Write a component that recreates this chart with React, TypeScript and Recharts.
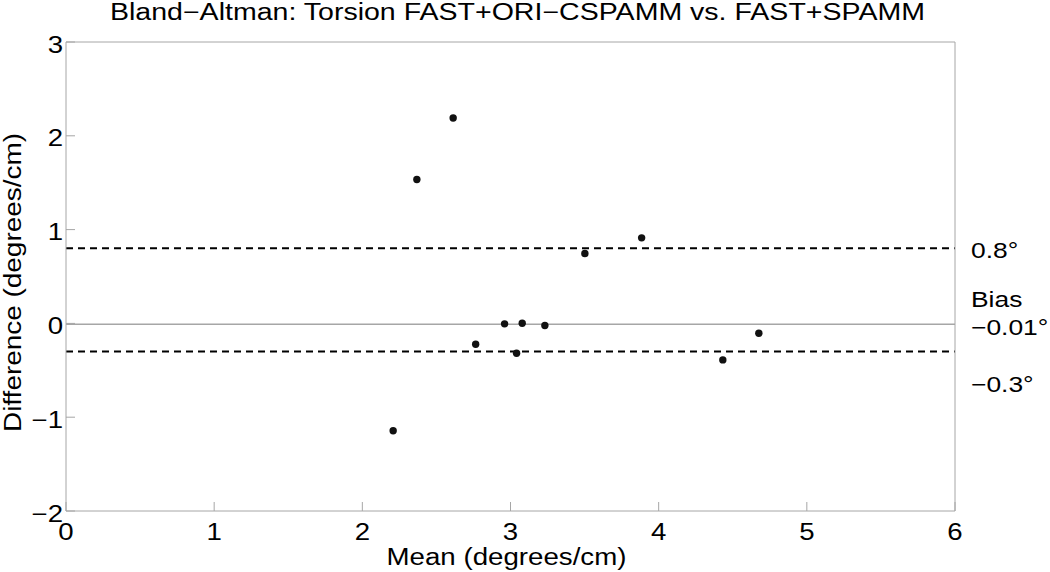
import {
  ScatterChart,
  Scatter,
  XAxis,
  YAxis,
  ReferenceLine,
} from 'recharts';

const meanValues = [2.208, 2.368, 2.613, 2.765, 2.96, 3.041, 3.079, 3.232, 3.502, 3.885, 4.433, 4.676];
const diffValues = [-1.144, 1.534, 2.189, -0.222, -0.005, -0.318, 0.002, -0.023, 0.745, 0.912, -0.389, -0.105];

const xTicks = [0, 1, 2, 3, 4, 5, 6];
const yTicks = [-2, -1, 0, 1, 2, 3];

const upperLimit = 0.8;
const bias = -0.01;
const lowerLimit = -0.3;

const FONT = '"Liberation Sans", Arial, Helvetica, sans-serif';
const AXIS_COLOR = '#a6a6a6';
const TICK_LEN = 9;
// the original glyphs are a little wider than Liberation Sans
const STRETCH = 1.2;

const points = meanValues.map((m, i) => ({ mean: m, diff: diffValues[i] }));

function WideText({ x, y, size, anchor, children }: any) {
  return (
    <text
      transform={`translate(${x} ${y}) scale(${STRETCH} 1)`}
      textAnchor={anchor}
      fontFamily={FONT}
      fontSize={size}
      fill="#000"
    >
      {children}
    </text>
  );
}

function BottomTick(props: any) {
  const { x, y, payload } = props;
  return (
    <g>
      <line x1={x} y1={y} x2={x} y2={y - TICK_LEN} stroke={AXIS_COLOR} />
      <WideText x={x} y={y + 29} size={23} anchor="middle">
        {payload.value}
      </WideText>
    </g>
  );
}

function TopTick(props: any) {
  const { x, y } = props;
  return <line x1={x} y1={y} x2={x} y2={y + TICK_LEN} stroke={AXIS_COLOR} />;
}

function LeftTick(props: any) {
  const { x, y, payload } = props;
  const label = payload.value < 0 ? `\u2212${Math.abs(payload.value)}` : `${payload.value}`;
  return (
    <g>
      <line x1={x} y1={y} x2={x + TICK_LEN} y2={y} stroke={AXIS_COLOR} />
      <WideText x={x - 3} y={y + 10.5} size={23} anchor="end">
        {label}
      </WideText>
    </g>
  );
}

function RightTick(props: any) {
  const { x, y } = props;
  return <line x1={x} y1={y} x2={x - TICK_LEN} y2={y} stroke={AXIS_COLOR} />;
}

function SideLabel({ viewBox, lines }: any) {
  if (!viewBox) return null;
  const x = viewBox.x + viewBox.width + 16;
  return (
    <g>
      {lines.map((l: { text: string; dy: number }, i: number) => (
        <WideText key={i} x={x} y={viewBox.y + l.dy} size={22} anchor="start">
          {l.text}
        </WideText>
      ))}
    </g>
  );
}

function Dot(props: any) {
  return <circle cx={props.cx} cy={props.cy} r={3.7} fill="#111" />;
}

export default function App() {
  return (
    <div style={{ position: 'absolute', left: 0, top: 0, background: '#fff' }}>
      <ScatterChart width={1050} height={572} margin={{ top: 22, right: 75, bottom: 31, left: 26 }}>
        <XAxis
          xAxisId="bottom"
          type="number"
          dataKey="mean"
          domain={[0, 6]}
          ticks={xTicks}
          height={30}
          tickSize={0}
          tickMargin={0}
          tickLine={false}
          axisLine={{ stroke: AXIS_COLOR }}
          tick={<BottomTick />}
          label={{
            content: ({ viewBox }: any) => (
              <text
                x={viewBox.x + viewBox.width / 2 - 4}
                y={viewBox.y + 54}
                textAnchor="middle"
                textLength={240}
                lengthAdjust="spacingAndGlyphs"
                fontFamily={FONT}
                fontSize={23}
                fill="#000"
              >
                Mean (degrees/cm)
              </text>
            ),
          }}
        />
        <XAxis
          xAxisId="top"
          orientation="top"
          type="number"
          dataKey="mean"
          domain={[0, 6]}
          ticks={xTicks}
          height={20}
          tickSize={0}
          tickMargin={0}
          tickLine={false}
          axisLine={{ stroke: AXIS_COLOR }}
          tick={<TopTick />}
          label={{
            content: ({ viewBox }: any) => (
              <text
                x={viewBox.x + viewBox.width / 2 + 7}
                y={viewBox.y + viewBox.height - 22}
                textAnchor="middle"
                textLength={815}
                lengthAdjust="spacingAndGlyphs"
                fontFamily={FONT}
                fontSize={23}
                fill="#000"
              >
                Bland{'\u2212'}Altman: Torsion FAST+ORI{'\u2212'}CSPAMM vs. FAST+SPAMM
              </text>
            ),
          }}
        />
        <YAxis
          yAxisId="left"
          type="number"
          dataKey="diff"
          domain={[-2, 3]}
          ticks={yTicks}
          width={40}
          tickSize={0}
          tickMargin={0}
          tickLine={false}
          axisLine={{ stroke: AXIS_COLOR }}
          tick={<LeftTick />}
          label={{
            content: ({ viewBox }: any) => {
              const cx = viewBox.x + viewBox.width - 45;
              const cy = viewBox.y + viewBox.height / 2 + 6;
              return (
                <text
                  x={cx}
                  y={cy}
                  transform={`rotate(-90 ${cx} ${cy})`}
                  textAnchor="middle"
                  textLength={299}
                  lengthAdjust="spacingAndGlyphs"
                  fontFamily={FONT}
                  fontSize={23.5}
                  fill="#000"
                >
                  Difference (degrees/cm)
                </text>
              );
            },
          }}
        />
        <YAxis
          yAxisId="right"
          orientation="right"
          type="number"
          domain={[-2, 3]}
          ticks={yTicks}
          width={20}
          tickSize={0}
          tickMargin={0}
          tickLine={false}
          axisLine={{ stroke: AXIS_COLOR }}
          tick={<RightTick />}
        />
        <ReferenceLine
          xAxisId="bottom"
          yAxisId="left"
          y={bias}
          stroke={AXIS_COLOR}
          strokeWidth={1.5}
          label={<SideLabel lines={[{ text: 'Bias', dy: -17.5 }, { text: '\u22120.01\u00b0', dy: 10.5 }]} />}
        />
        <ReferenceLine
          xAxisId="bottom"
          yAxisId="left"
          y={upperLimit}
          stroke="#000"
          strokeWidth={2}
          strokeDasharray="7 5"
          label={<SideLabel lines={[{ text: '0.8\u00b0', dy: 9.5 }]} />}
        />
        <ReferenceLine
          xAxisId="bottom"
          yAxisId="left"
          y={lowerLimit}
          stroke="#000"
          strokeWidth={2}
          strokeDasharray="7 5"
          label={<SideLabel lines={[{ text: '\u22120.3\u00b0', dy: 40 }]} />}
        />
        <Scatter
          xAxisId="bottom"
          yAxisId="left"
          data={points}
          shape={<Dot />}
          isAnimationActive={false}
        />
      </ScatterChart>
    </div>
  );
}
